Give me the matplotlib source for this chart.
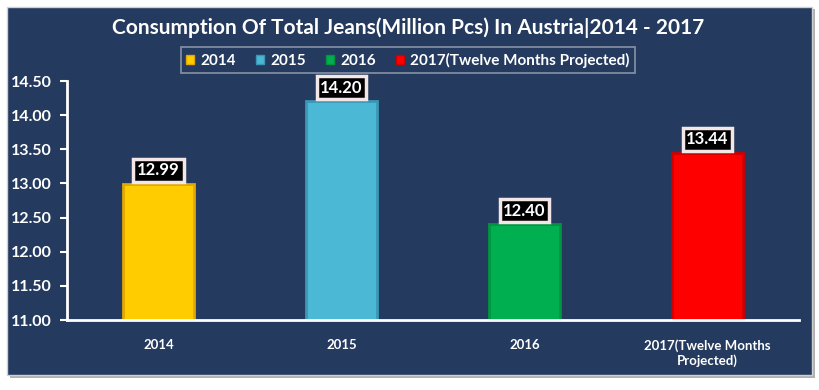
import matplotlib.pyplot as plt
from matplotlib.patches import Rectangle

categories = ['2014', '2015', '2016', '2017(Twelve Months\nProjected)']
legend_names = ['2014', '2015', '2016', '2017(Twelve Months Projected)']
values = [12.99, 14.20, 12.40, 13.44]
colors = ['#FFCC00', '#4BB8D6', '#00B050', '#FF0000']
edges = ['#E0A800', '#3A98B5', '#00963F', '#D00000']

bg = '#243A5E'
plt.rcParams['font.family'] = ['Lato', 'DejaVu Sans']

fig = plt.figure(figsize=(8.2, 3.9), dpi=100)
fig.patch.set_facecolor('white')
# shadow + panel behind the axes
fig.patches.append(Rectangle((10 / 820, 1 - 378 / 390), 805 / 820, 369 / 390,
                             transform=fig.transFigure, facecolor='#B0B0B0', edgecolor='none', zorder=-2))
fig.patches.append(Rectangle((7 / 820, 1 - 375 / 390), 805 / 820, 368 / 390,
                             transform=fig.transFigure, facecolor=bg, edgecolor='#D0D0D0', lw=1, zorder=-1))

ax = fig.add_axes([67 / 820, 1 - 320 / 390, 732 / 820, 239 / 390])
ax.set_facecolor('none')

x = range(len(values))
bars = ax.bar(x, values, width=0.39, color=colors, edgecolor=edges, linewidth=2)
ax.set_ylim(11, 14.5)
ax.set_xlim(-0.5, 3.5)
ax.set_yticks([11 + 0.5 * i for i in range(8)])
ax.set_yticklabels([f'{11 + 0.5 * i:.2f}' for i in range(8)])
ax.set_xticks(list(x))
ax.set_xticklabels(categories)

for s in ['top', 'right']:
    ax.spines[s].set_visible(False)
for s in ['left', 'bottom']:
    ax.spines[s].set_color('white')
    ax.spines[s].set_linewidth(2)
ax.tick_params(axis='y', colors='white', length=5, width=1.5, labelsize=11.5, pad=6)
ax.tick_params(axis='x', length=0, colors='white', labelsize=9.5, pad=14)
for lab in ax.get_yticklabels() + ax.get_xticklabels():
    lab.set_fontweight('bold')

for xi, v in zip(x, values):
    ax.annotate(f'{v:.2f}', (xi, v), xytext=(0, 10), textcoords='offset points',
                ha='center', va='center', color='white', fontsize=12, fontweight='bold',
                bbox=dict(boxstyle='square,pad=0.22', facecolor='black', edgecolor='#F2E6E6', lw=2.5))

handles = [Rectangle((0, 0), 1, 1, facecolor=c, edgecolor=e) for c, e in zip(colors, edges)]
leg = fig.legend(handles, legend_names, loc='center', bbox_to_anchor=(408 / 820, 1 - 60 / 390),
                 ncol=4, frameon=True, fancybox=False, handlelength=0.55, handleheight=0.55,
                 handletextpad=0.4, columnspacing=1.3, borderpad=0.35,
                 prop={'weight': 'bold', 'size': 11})
leg.get_frame().set_facecolor(bg)
leg.get_frame().set_edgecolor('#A0A8B8')
leg.get_frame().set_linewidth(1.2)
for t in leg.get_texts():
    t.set_color('white')

fig.text(408 / 820, 1 - 28 / 390, 'Consumption Of Total Jeans(Million Pcs) In Austria|2014 - 2017',
         ha='center', va='center', color='white', fontsize=15, fontweight='bold')

fig.savefig('out.png', dpi=100, facecolor=fig.get_facecolor())
